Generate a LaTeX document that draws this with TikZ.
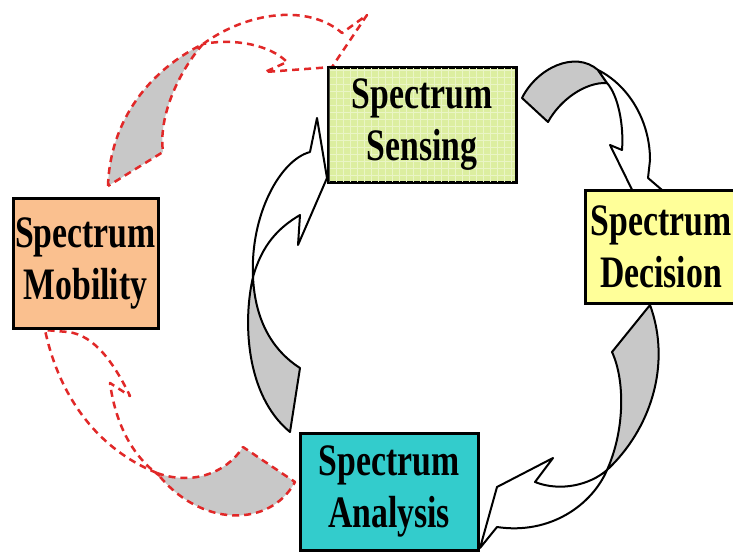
\documentclass[tikz,border=0pt]{standalone}
\usepackage{fontspec}
\newfontfamily\boxfont[FakeStretch=0.75]{Liberation Serif}
\definecolor{senscol}{RGB}{220,238,160}
\definecolor{deccol}{RGB}{255,255,153}
\definecolor{mobcol}{RGB}{250,192,143}
\definecolor{anacol}{RGB}{51,204,204}
\definecolor{bandgray}{RGB}{200,200,200}
\definecolor{dashred}{RGB}{225,40,40}
\tikzset{
  stagebox/.style={draw=black, line width=3pt, align=center, inner sep=0pt,
    font=\boxfont\bfseries\fontsize{45}{52}\selectfont},
  blockback/.style={draw=black, line width=2pt, fill=bandgray, line join=round},
  blockfront/.style={draw=black, line width=2pt, fill=white, line join=round},
  dashback/.style={draw=dashred, line width=2.5pt, dash pattern=on 7pt off 5pt, fill=bandgray, line join=round},
  dashfront/.style={draw=dashred, line width=2.5pt, dash pattern=on 7pt off 5pt, line join=round}
}
\begin{document}
\begin{tikzpicture}[x=1pt,y=-1pt]
\useasboundingbox (0,0) rectangle (733,554);
\fill[white] (0,0) rectangle (733,554);

% red dashed arrow: Mobility -> Sensing (top)
\path[dashback] (108,186) .. controls (110,120) and (150,70) .. (203,44)
   .. controls (180,70) and (158,115) .. (163,152) -- cycle;
\path[dashfront] (203,44) .. controls (250,10) and (310,5) .. (342,33) -- (367,15)
   -- (332,67) -- (265,72) -- (287,62) .. controls (270,45) and (235,38) .. (203,44);

% red dashed arrow: Analysis -> Mobility (bottom)
\path[dashback] (157,473) .. controls (190,485) and (225,475) .. (243,447) -- (295,482)
   .. controls (270,528) and (200,528) .. (157,473) -- cycle;
\path[dashfront] (157,473) .. controls (100,450) and (60,400) .. (45,330) -- (68,332)
   .. controls (95,335) and (115,365) .. (130,396) -- (110,383)
   .. controls (115,420) and (130,455) .. (160,476);

% black arrow: Sensing -> Decision
\path[blockback] (522,98) .. controls (537,68) and (575,50) .. (598,70) -- (607,83)
   .. controls (585,82) and (560,100) .. (548,122) -- cycle;
\path[blockfront] (598,70) .. controls (628,85) and (650,120) .. (650,160) -- (648,178)
   -- (662,190) -- (642,210) -- (610,145) -- (622,150)
   .. controls (624,125) and (618,95) .. (607,83) -- cycle;

% black arrow: Decision -> Analysis
\path[blockback] (650,305) -- (612,352) .. controls (625,380) and (625,430) .. (607,470)
   .. controls (650,430) and (672,365) .. (650,305) -- cycle;
\path[blockfront] (607,470) .. controls (592,505) and (550,535) .. (497,527) -- (480,548)
   -- (497,487) -- (553,458) -- (535,482) .. controls (560,492) and (590,485) .. (607,470) -- cycle;

% black arrow: Analysis -> Sensing
\path[blockback] (290,432) -- (300,368) .. controls (272,350) and (255,320) .. (253,277)
   .. controls (243,320) and (245,395) .. (290,432) -- cycle;
\path[blockfront] (253,277) .. controls (250,215) and (280,160) .. (310,152) -- (317,118)
   -- (327,178) -- (298,245) -- (300,215) .. controls (278,228) and (262,245) .. (253,277) -- cycle;

% boxes
\node[stagebox, fill=senscol, minimum width=188pt, minimum height=115pt] (sens) at (422,124.5) {};
\begin{scope}
\clip (329.5,68.5) rectangle (514.5,181);
\draw[senscol!60!white, line width=0.4pt, xstep=7pt, ystep=7pt] (328,67) grid (516,183);
\end{scope}
\node[stagebox, draw=none, minimum width=188pt, minimum height=115pt] (senstxt) at (422,124.5) {Spectrum\\Sensing};
\node[stagebox, fill=deccol, minimum width=160pt, minimum height=113pt] (dec) at (665,246.5) {};
\node[stagebox, draw=none] (dectxt) at (661,246.5) {Spectrum\\Decision};
\node[stagebox, fill=mobcol, minimum width=145pt, minimum height=130pt] (mob) at (85.5,263) {Spectrum\\Mobility};
\node[stagebox, fill=anacol, minimum width=178pt, minimum height=117pt] (ana) at (389,491.5) {Spectrum\\Analysis};
\end{tikzpicture}
\end{document}
